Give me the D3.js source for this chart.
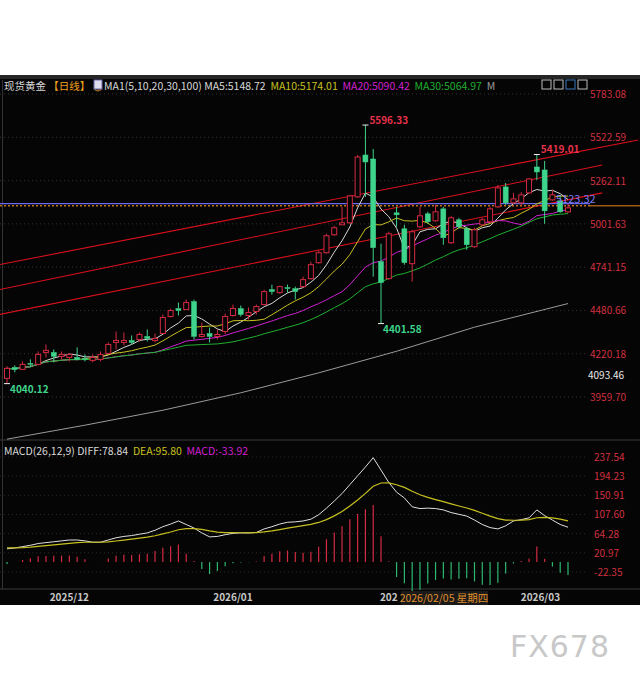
<!DOCTYPE html>
<html><head><meta charset="utf-8">
<script src="https://cdn.jsdelivr.net/npm/d3@7"></script>
<style>body{margin:0;background:#fff;}svg{display:block;font-family:"Noto Sans CJK SC","Noto Sans",sans-serif;}</style>
</head><body>
<script>
// ---- data ----
const opens  = [4072,4138,4126,4162,4156,4228,4228,4204,4198,4198,4192,4180,4186,4222,4288,4288,4300,4306,4324,4300,4342,4444,4492,4486,4534,4324,4342,4324,4354,4450,4492,4450,4474,4516,4606,4588,4618,4612,4624,4672,4768,4828,4936,4996,5008,5164,5416,5392,4774,4672,5068,4972,4762,4984,5062,5020,5092,4888,5026,4972,4864,4996,5014,5104,5224,5128,5128,5188,5344,5326,5146,5140,5074];
const highs  = [4144,4150,4174,4186,4234,4276,4246,4234,4222,4258,4216,4216,4234,4288,4354,4348,4330,4348,4366,4342,4456,4492,4528,4546,4546,4408,4378,4366,4462,4516,4510,4498,4516,4606,4636,4630,4636,4624,4684,4774,4840,4942,4990,5104,5176,5416,5596.33,5452,4882,4954,5104,4996,4966,5104,5074,5116,5104,5050,5038,4984,4978,5038,5104,5236,5248,5188,5194,5278,5419.01,5380,5206,5170,5122];
const lows   = [4040.12,4108,4126,4138,4150,4198,4168,4186,4174,4180,4174,4168,4174,4216,4246,4270,4276,4294,4294,4288,4342,4438,4450,4486,4306,4318,4288,4306,4336,4444,4444,4426,4456,4510,4576,4582,4588,4546,4618,4666,4762,4822,4930,4996,5002,5158,5164,4684,4401.58,4666,4984,4756,4654,4978,5002,5014,4876,4882,4972,4846,4858,4990,5008,5098,5116,5122,5116,5182,5266,5002,5140,5068,5068];
const closes = [4132,4126,4156,4156,4216,4240,4204,4216,4216,4186,4186,4198,4216,4276,4300,4300,4288,4336,4312,4312,4438,4480,4480,4528,4324,4336,4324,4336,4444,4492,4456,4468,4504,4594,4594,4624,4612,4594,4666,4756,4828,4930,4978,5008,5170,5404,5374,4858,4648,4942,5056,4768,4954,5050,5014,5074,4918,5038,4984,4876,4966,5026,5092,5218,5128,5152,5176,5272,5314,5080,5176,5074,5098];
const ma100Idx = [0,10,20,30,40,50,60,72];
const ma100Val = [3706,3790,3880,3985,4105,4235,4380,4522];
const diff = [30,32,35,38,42,44,46,48,50,50,48,45,45,50,55,58,60,63,66,72,80,86,93,85,77,66,57,58,62,65,66,66,67,75,80,86,90,91,93,97,107,122,138,155,175,195,215,236,208,180,158,145,125,121,122,121,118,112,108,104,95,85,78,75,82,93,96,100,118,105,95,85,78.84];
const priceTicks = [5783.08,5522.59,5262.11,5001.63,4741.15,4480.66,4220.18,3959.70];
const macdTicks = [237.54,194.23,150.91,107.60,64.28,20.97,-22.35];
const channels = [[-1,4756,81,5506],[-1,4606,76.4,5356],[-1,4456,76.4,5188]];
const dateLabels = [["2025/12",8],["2026/01",29],["202",49]];
const lastPrice = 5123.32, refPrice = 5110, lowMarker = 4093.46;

// ---- setup ----
const W=640,H=681;
const svg=d3.select("body").append("svg").attr("width",W).attr("height",H);
svg.append("rect").attr("x",0).attr("y",75).attr("width",W).attr("height",530).attr("fill","#050505");
svg.append("rect").attr("x",0).attr("y",75).attr("width",W).attr("height",4).attr("fill","#262626");
const x=d3.scaleLinear().domain([0,72]).range([7,568]);
const y=d3.scaleLinear().domain([3959.70,5783.08]).range([397,94]);
const ym=d3.scaleLinear().domain([-22.35,237.54]).range([572,457]);
const red="#d42a42", green="#3fd48c";

priceTicks.forEach(t=>svg.append("line").attr("x1",0).attr("x2",588).attr("y1",y(t)).attr("y2",y(t)).attr("stroke","#333").attr("stroke-dasharray","1,3"));
macdTicks.forEach(t=>svg.append("line").attr("x1",0).attr("x2",588).attr("y1",ym(t)).attr("y2",ym(t)).attr("stroke","#2a2a2a").attr("stroke-dasharray","1,3"));
svg.append("line").attr("x1",0).attr("x2",W).attr("y1",440).attr("y2",440).attr("stroke","#3a3a3a");
svg.append("line").attr("x1",0).attr("x2",W).attr("y1",589).attr("y2",589).attr("stroke","#3a3a3a");
svg.append("line").attr("x1",2.5).attr("x2",2.5).attr("y1",80).attr("y2",589).attr("stroke","#333");

channels.forEach(c=>svg.append("line").attr("x1",x(c[0])).attr("y1",y(c[1])).attr("x2",x(c[2])).attr("y2",y(c[3])).attr("stroke","#d9101c").attr("stroke-width",1.1));

svg.append("line").attr("x1",0).attr("x2",590).attr("y1",y(lastPrice)).attr("y2",y(lastPrice)).attr("stroke","#6a6af0").attr("stroke-width",1.2);
svg.append("line").attr("x1",0).attr("x2",590).attr("y1",y(refPrice)).attr("y2",y(refPrice)).attr("stroke","#c07018").attr("stroke-width",1.5).attr("stroke-dasharray","2,2");
svg.append("line").attr("x1",590).attr("x2",640).attr("y1",y(refPrice)).attr("y2",y(refPrice)).attr("stroke","#a05a14").attr("stroke-width",1.5);

function ma(n){return closes.map((c,i)=>{const s=closes.slice(Math.max(0,i-n+1),i+1);return d3.mean(s);});}
const line=d3.line().x((d,i)=>x(i)).y(d=>y(d));
[[5,"#d8d8d8"],[10,"#c8c020"],[20,"#d020d0"],[30,"#20b030"]].forEach(([n,c])=>svg.append("path").attr("d",line(ma(n))).attr("fill","none").attr("stroke",c).attr("stroke-width",1));
svg.append("path").attr("d",d3.line().x((d,i)=>x(ma100Idx[i])).y(d=>y(d))(ma100Val)).attr("fill","none").attr("stroke","#9a9a9a").attr("stroke-width",1);

const bw=5;
closes.forEach((c,i)=>{
  const o=opens[i],up=c>=o,col=up?red:green,cx=x(i);
  const top=y(Math.max(o,c)),bot=y(Math.min(o,c));
  svg.append("line").attr("x1",cx).attr("x2",cx).attr("y1",y(highs[i])).attr("y2",top).attr("stroke",col);
  svg.append("line").attr("x1",cx).attr("x2",cx).attr("y1",bot).attr("y2",y(lows[i])).attr("stroke",col);
  svg.append("rect").attr("x",cx-bw/2).attr("y",top).attr("width",bw).attr("height",Math.max(1,bot-top))
    .attr("fill",up?"#050505":green).attr("stroke",col).attr("stroke-width",up?1:0.5);
});

function mark(i,v,txt,col,dy,dx){
  svg.append("line").attr("x1",x(i)-3).attr("x2",x(i)+3).attr("y1",y(v)).attr("y2",y(v)).attr("stroke","#eee");
  svg.append("text").attr("x",x(i)+dx).attr("y",y(v)+dy).attr("fill",col).attr("font-size",10).attr("font-weight","bold").text(txt);
}
mark(46,5596.33,"5596.33","#e8324a",-1,4);
mark(48,4401.58,"4401.58","#3fd48c",9,2);
mark(0,4040.12,"4040.12","#3fd48c",9,3);
mark(68,5419.01,"5419.01","#e8324a",-1,4);

priceTicks.forEach(t=>svg.append("text").attr("x",590).attr("y",y(t)+4).attr("fill","#d23040").attr("font-size",10).text(t.toFixed(2)));
svg.append("text").attr("x",588).attr("y",y(lowMarker)+4).attr("fill","#e8e8e8").attr("font-size",10).text(lowMarker.toFixed(2));
svg.append("text").attr("x",556).attr("y",y(lastPrice)-1).attr("fill","#7b7bf5").attr("font-size",11).text(lastPrice.toFixed(2));

const lg=svg.append("text").attr("x",4).attr("y",90).attr("font-size",10.5);
[["现货黄金 ","#d8d8d8"],["【日线】","#f0a020"],[" ◍ ","#c08020"]].forEach(([t,c])=>lg.append("tspan").attr("fill",c).text(t));
svg.append("rect").attr("x",94).attr("y",80).attr("width",8).attr("height",9).attr("fill","#dde").attr("stroke","#66a");
const lg2=svg.append("text").attr("x",104).attr("y",90).attr("font-size",10.5);
[["MA1(5,10,20,30,100) ","#d8d8d8"],["MA5:5148.72  ","#d8d8d8"],["MA10:5174.01  ","#c8c020"],["MA20:5090.42  ","#d020d0"],["MA30:5064.97  ","#20b030"],["M","#999"]].forEach(([t,c])=>lg2.append("tspan").attr("fill",c).attr("xml:space","preserve").text(t));
[0,1,2,3].forEach(k=>svg.append("rect").attr("x",542+k*12).attr("y",80).attr("width",9).attr("height",9).attr("fill","none").attr("stroke",k==2?"#3a7ac0":"#bbb"));

const dea=[];diff.forEach((d,i)=>dea.push(i==0?32:dea[i-1]*8/10+d*2/10));
const hist=diff.map((d,i)=>2*(d-dea[i]));
hist.forEach((h,i)=>svg.append("line").attr("x1",x(i)).attr("x2",x(i)).attr("y1",ym(0)).attr("y2",ym(h)).attr("stroke",h>=0?red:"#2fb870").attr("stroke-width",1.2));
svg.append("path").attr("d",d3.line().x((d,i)=>x(i)).y(d=>ym(d))(diff)).attr("fill","none").attr("stroke","#e0e0e0");
svg.append("path").attr("d",d3.line().x((d,i)=>x(i)).y(d=>ym(d))(dea)).attr("fill","none").attr("stroke","#c8c020").attr("stroke-width",1.2);
macdTicks.forEach(t=>svg.append("text").attr("x",594).attr("y",ym(t)+4).attr("fill","#d23040").attr("font-size",10).text(t.toFixed(2)));
const ml=svg.append("text").attr("x",4).attr("y",455).attr("font-size",10.5);
[["MACD(26,12,9) DIFF:78.84  ","#d8d8d8"],["DEA:95.80  ","#c8c020"],["MACD:-33.92","#d020d0"]].forEach(([t,c])=>ml.append("tspan").attr("fill",c).attr("xml:space","preserve").text(t));

dateLabels.forEach(([t,i])=>svg.append("text").attr("x",x(i)).attr("y",601).attr("text-anchor","middle").attr("fill","#c8c8c8").attr("font-size",10).attr("font-weight","bold").text(t));
svg.append("text").attr("x",x(70)-12).attr("y",601).attr("text-anchor","middle").attr("fill","#c8c8c8").attr("font-size",10).attr("font-weight","bold").text("2026/03");
svg.append("rect").attr("x",401).attr("y",591).attr("width",87).attr("height",14).attr("fill","#1a1a1a");
svg.append("text").attr("x",444).attr("y",602).attr("text-anchor","middle").attr("fill","#e0902a").attr("font-size",10.5).text("2026/02/05 星期四");

svg.append("text").attr("x",610).attr("y",657).attr("text-anchor","end").attr("fill","#c8c8c8").attr("font-size",30).attr("font-family","DejaVu Sans").attr("letter-spacing",1).text("FX678");
</script>
</body></html>
